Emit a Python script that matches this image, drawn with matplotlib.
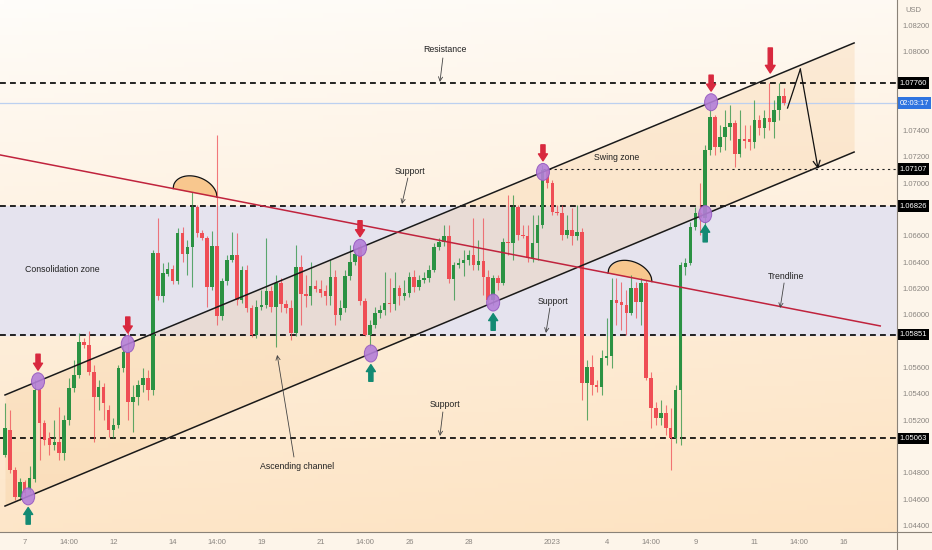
import numpy as np
import matplotlib.pyplot as plt
import matplotlib.transforms as mtransforms
from matplotlib.patches import Ellipse
from matplotlib.lines import Line2D

plt.rcParams['font.family'] = ['Liberation Sans', 'DejaVu Sans']

# EURUSD 4h candles (index 0 = Dec 6, 08:00)
opens = [1.04937, 1.05126, 1.04823, 1.04618, 1.04732, 1.04671, 1.04754, 1.05430, 1.05180, 1.05066,
         1.05012, 1.05035, 1.04952, 1.05202, 1.05445, 1.05544, 1.05794, 1.05771, 1.05567, 1.05377,
         1.05453, 1.05278, 1.05126, 1.05164, 1.05597, 1.05718, 1.05339, 1.05377, 1.05468, 1.05521,
         1.05430, 1.06470, 1.06143, 1.06310, 1.06348, 1.06257, 1.06621, 1.06462, 1.06515, 1.06819,
         1.06621, 1.06584, 1.06212, 1.06523, 1.05992, 1.06257, 1.06417, 1.06455, 1.06113, 1.06341,
         1.06052, 1.05847, 1.06060, 1.06075, 1.06181, 1.06060, 1.06242, 1.06083, 1.06052, 1.05863,
         1.06364, 1.06159, 1.06143, 1.06219, 1.06197, 1.06181, 1.06143, 1.06288, 1.05999, 1.06052,
         1.06295, 1.06401, 1.06515, 1.06105, 1.05847, 1.05923, 1.06014, 1.06037, 1.06090, 1.06083,
         1.06204, 1.06143, 1.06166, 1.06288, 1.06212, 1.06265, 1.06280, 1.06341, 1.06515, 1.06553,
         1.06599, 1.06272, 1.06379, 1.06394, 1.06417, 1.06455, 1.06379, 1.06409, 1.06288, 1.06113,
         1.06280, 1.06242, 1.06553, 1.06546, 1.06819, 1.06606, 1.06599, 1.06432, 1.06546, 1.06682,
         1.07100, 1.07001, 1.06781, 1.06773, 1.06606, 1.06644, 1.06599, 1.06629, 1.05483, 1.05605,
         1.05468, 1.05453, 1.05673, 1.05688, 1.06113, 1.06098, 1.06075, 1.06014, 1.06204, 1.06098,
         1.06242, 1.05521, 1.05293, 1.05217, 1.05255, 1.05141, 1.05066, 1.05430, 1.06364, 1.06394,
         1.06667, 1.06773, 1.06735, 1.07252, 1.07502, 1.07274, 1.07350, 1.07426, 1.07456, 1.07221,
         1.07335, 1.07335, 1.07312, 1.07479, 1.07418, 1.07494, 1.07464, 1.07552, 1.07659]
closes = [1.05141, 1.04823, 1.04618, 1.04732, 1.04648, 1.04762, 1.05430, 1.05180, 1.05050, 1.05012,
          1.05035, 1.04952, 1.05202, 1.05445, 1.05544, 1.05794, 1.05771, 1.05567, 1.05377, 1.05453,
          1.05331, 1.05126, 1.05164, 1.05597, 1.05718, 1.05339, 1.05377, 1.05468, 1.05521, 1.05430,
          1.06470, 1.06143, 1.06318, 1.06348, 1.06257, 1.06621, 1.06462, 1.06515, 1.06819, 1.06621,
          1.06584, 1.06212, 1.06523, 1.05992, 1.06257, 1.06417, 1.06455, 1.06113, 1.06341, 1.06052,
          1.05847, 1.06060, 1.06075, 1.06181, 1.06060, 1.06242, 1.06083, 1.06052, 1.05863, 1.06364,
          1.06159, 1.06143, 1.06219, 1.06197, 1.06166, 1.06143, 1.06288, 1.05999, 1.06052, 1.06295,
          1.06401, 1.06462, 1.06105, 1.05847, 1.05923, 1.06014, 1.06037, 1.06090, 1.06083, 1.06204,
          1.06143, 1.06166, 1.06288, 1.06212, 1.06265, 1.06280, 1.06341, 1.06515, 1.06553, 1.06599,
          1.06272, 1.06379, 1.06394, 1.06417, 1.06455, 1.06379, 1.06409, 1.06288, 1.06113, 1.06280,
          1.06242, 1.06553, 1.06546, 1.06819, 1.06606, 1.06599, 1.06432, 1.06546, 1.06682, 1.07100,
          1.07001, 1.06781, 1.06773, 1.06606, 1.06644, 1.06599, 1.06629, 1.05483, 1.05605, 1.05468,
          1.05453, 1.05673, 1.05688, 1.06113, 1.06090, 1.06075, 1.06014, 1.06204, 1.06098, 1.06242,
          1.05521, 1.05293, 1.05217, 1.05255, 1.05141, 1.05066, 1.05430, 1.06379, 1.06394, 1.06667,
          1.06773, 1.06735, 1.07252, 1.07502, 1.07274, 1.07350, 1.07426, 1.07456, 1.07221, 1.07335,
          1.07320, 1.07312, 1.07479, 1.07418, 1.07494, 1.07464, 1.07552, 1.07659, 1.07606]
highs = [1.05331, 1.05278, 1.04846, 1.04762, 1.04747, 1.04853, 1.05506, 1.05445, 1.05202, 1.05111,
         1.05202, 1.05301, 1.05240, 1.05521, 1.05658, 1.05863, 1.05825, 1.05878, 1.05620, 1.05506,
         1.05483, 1.05316, 1.05217, 1.05620, 1.05771, 1.05908, 1.05468, 1.05506, 1.05597, 1.05582,
         1.06492, 1.06735, 1.06394, 1.06401, 1.06379, 1.06659, 1.06667, 1.06568, 1.06933, 1.06834,
         1.06644, 1.06599, 1.06637, 1.07365, 1.06280, 1.06455, 1.06629, 1.06621, 1.06371, 1.06379,
         1.06075, 1.06113, 1.06189, 1.06584, 1.06219, 1.06303, 1.06280, 1.06113, 1.06113, 1.06530,
         1.06455, 1.06303, 1.06401, 1.06265, 1.06265, 1.06227, 1.06417, 1.06341, 1.06113, 1.06341,
         1.06530, 1.06508, 1.06538, 1.06128, 1.05961, 1.06060, 1.06075, 1.06326, 1.06280, 1.06326,
         1.06227, 1.06265, 1.06326, 1.06341, 1.06303, 1.06326, 1.06379, 1.06546, 1.06584, 1.06682,
         1.06682, 1.06401, 1.06432, 1.06492, 1.06492, 1.06735, 1.06568, 1.06735, 1.06341, 1.06303,
         1.06303, 1.06584, 1.06910, 1.06910, 1.06834, 1.06682, 1.06682, 1.06758, 1.06758, 1.07138,
         1.07115, 1.07024, 1.06834, 1.06834, 1.06758, 1.06811, 1.06834, 1.06659, 1.05658, 1.05696,
         1.05506, 1.05734, 1.05976, 1.06280, 1.06280, 1.06250, 1.06189, 1.06303, 1.06250, 1.06280,
         1.06265, 1.05567, 1.05339, 1.05354, 1.05316, 1.05293, 1.05468, 1.06401, 1.06432, 1.06705,
         1.06819, 1.07001, 1.07290, 1.07608, 1.07517, 1.07441, 1.07555, 1.07593, 1.07479, 1.07555,
         1.07441, 1.07441, 1.07631, 1.07517, 1.07555, 1.07760, 1.07631, 1.07760, 1.07722]
lows = [1.04921, 1.04800, 1.04595, 1.04595, 1.04625, 1.04656, 1.04732, 1.04899, 1.05012, 1.04937,
        1.04975, 1.04899, 1.04899, 1.05164, 1.05415, 1.05521, 1.05749, 1.05544, 1.05035, 1.05278,
        1.05202, 1.05073, 1.05066, 1.05141, 1.05567, 1.05202, 1.05111, 1.05316, 1.05415, 1.05354,
        1.05392, 1.06113, 1.06098, 1.06295, 1.06234, 1.06234, 1.06401, 1.06303, 1.06212, 1.06591,
        1.06568, 1.06060, 1.06189, 1.05923, 1.05961, 1.06227, 1.06401, 1.06075, 1.06090, 1.06022,
        1.05832, 1.05825, 1.06037, 1.06052, 1.06022, 1.05756, 1.06022, 1.06014, 1.05809, 1.05840,
        1.05923, 1.06060, 1.06075, 1.06174, 1.06136, 1.06075, 1.06075, 1.05923, 1.05961, 1.06022,
        1.06265, 1.06379, 1.06075, 1.05840, 1.05756, 1.05900, 1.05976, 1.05999, 1.06022, 1.06037,
        1.06075, 1.06113, 1.06136, 1.06174, 1.06189, 1.06242, 1.06250, 1.06326, 1.06492, 1.06523,
        1.06242, 1.06113, 1.06356, 1.06295, 1.06379, 1.06341, 1.06341, 1.06151, 1.06060, 1.06075,
        1.06189, 1.06227, 1.06455, 1.06417, 1.06568, 1.06584, 1.06401, 1.06401, 1.06417, 1.06659,
        1.06963, 1.06758, 1.06758, 1.06568, 1.06584, 1.06530, 1.06568, 1.05354, 1.05202, 1.05392,
        1.05415, 1.05392, 1.05620, 1.05597, 1.05923, 1.05885, 1.05847, 1.05999, 1.05976, 1.05923,
        1.05506, 1.05141, 1.05164, 1.05164, 1.05088, 1.04823, 1.05028, 1.05012, 1.06303, 1.06379,
        1.06644, 1.06606, 1.06622, 1.07214, 1.07214, 1.07236, 1.07252, 1.07327, 1.07122, 1.07198,
        1.07267, 1.07252, 1.07267, 1.07365, 1.07343, 1.07403, 1.07343, 1.07479, 1.07593]

# levels and drawings (candle index, price)
key_levels = [1.07760, 1.06826, 1.05851, 1.05063]
swing_level = 1.07107
consolidation = (1.05851, 1.06826)
upper_x, upper_y = [0, 172.2], [1.05392, 1.08064]
lower_x, lower_y = [0, 172.2], [1.04549, 1.07236]
trend_x, trend_y = [-1.0, 177.5], [1.07214, 1.05916]
upper_touch = [6.7, 24.9, 72.0, 109.1, 143.2]
lower_touch = [4.7, 74.2, 99.0, 142.0]
arc_spans = [(34.1, 43.0), (122.3, 131.2)]

tick_pos = [4, 13, 22, 34, 43, 52, 64, 73, 82, 94, 111, 122, 131, 140, 152, 161, 170]
tick_lab = ['7', '14:00', '12', '14', '14:00', '19', '21', '14:00', '26', '28', '2023',
            '4', '14:00', '9', '11', '14:00', '16']
price_ticks = [1.044, 1.046, 1.048, 1.052, 1.054, 1.056, 1.060, 1.062, 1.064, 1.066,
               1.070, 1.072, 1.074, 1.080, 1.082]

GREEN = '#2b9243'
RED = '#ef4e55'
ARROW_RED = '#d8283e'
ARROW_GREEN = '#138a73'

fig = plt.figure(figsize=(9.32, 5.5), dpi=100, facecolor='#fdf5ea')
ax = fig.add_axes([0, 18 / 550, 897 / 932, 532 / 550])

# background gradient: near white on top, peach towards the bottom
u = np.linspace(0, 1, 200)
v = np.linspace(0, 1, 120)          # 0 = bottom, 1 = top
U, V = np.meshgrid(u, v)
t = np.clip(0.85 * (1 - V) ** 0.9 + 0.12 * U, 0, 1)[..., None]
c1 = np.array([255, 253, 250]) / 255
c2 = np.array([253, 226, 192]) / 255
grad = c1 * (1 - t) + c2 * t
ax.imshow(grad, extent=[0, 1, 0, 1], transform=ax.transAxes, aspect='auto',
          origin='lower', zorder=0)

ax.axhspan(consolidation[0], consolidation[1], color='#e5e3ee', zorder=1)

xs = np.linspace(upper_x[0], upper_x[1], 50)
ax.fill_between(xs, np.interp(xs, lower_x, lower_y), np.interp(xs, upper_x, upper_y),
                color='#f3c68e', alpha=0.25, lw=0, zorder=1.5)

# horizontal levels
for lv in key_levels:
    ax.axhline(lv, color='black', lw=1.2, ls=(0, (3.5, 2.5)), zorder=2)
ax.plot([upper_touch[3], 181], [swing_level, swing_level], color='#222', lw=0.8,
        ls=(0, (2, 3)), zorder=2)
ax.axhline(closes[-1], color='#bcd0f0', lw=0.9, zorder=2)

# semicircles on the trendline
for a, b in arc_spans:
    ax_ = np.linspace(a, b, 80)
    base = np.interp(ax_, trend_x, trend_y)
    m, hw = (a + b) / 2, (b - a) / 2
    top = base + 0.00125 * np.sqrt(np.clip(1 - ((ax_ - m) / hw) ** 2, 0, 1))
    ax.fill_between(ax_, base, top, color='#f8c78e', lw=0, zorder=2.5)
    ax.plot(ax_, top, color='#111', lw=0.9, zorder=2.6)

# candles
idx = np.arange(len(closes))
o = np.array(opens); c = np.array(closes)
cols = [GREEN if cc >= oo else RED for oo, cc in zip(o, c)]
ax.vlines(idx, lows, highs, colors=cols, lw=0.8, alpha=0.75, zorder=2.9)
body = np.where(np.abs(c - o) < 0.00003, 0.00003, np.abs(c - o))
ax.bar(idx, body, bottom=np.minimum(o, c), width=0.72, color=cols, zorder=3)

# channel and trendline
ax.plot(upper_x, upper_y, color='#1a1a1a', lw=1.1, zorder=4)
ax.plot(lower_x, lower_y, color='#1a1a1a', lw=1.1, zorder=4)
ax.plot(trend_x, trend_y, color='#c0233d', lw=1.1, zorder=4)

# touch points with arrows
arrow_style = 'simple,head_length=0.5,head_width=0.65,tail_width=0.3'
for xt in upper_touch:
    yt = np.interp(xt, upper_x, upper_y)
    ax.add_patch(Ellipse((xt, yt), 2.64, 0.00129, fc='#b47fd8', ec='#9457c0', lw=0.7,
                         alpha=0.9, zorder=5))
    ax.annotate('', xy=(xt, yt), xytext=(0, 19.5), textcoords='offset points',
                arrowprops=dict(arrowstyle=arrow_style, color=ARROW_RED, shrinkA=0,
                                shrinkB=8, mutation_scale=10), zorder=6)
for xt in lower_touch:
    yt = np.interp(xt, lower_x, lower_y)
    ax.add_patch(Ellipse((xt, yt), 2.64, 0.00129, fc='#b47fd8', ec='#9457c0', lw=0.7,
                         alpha=0.9, zorder=5))
    ax.annotate('', xy=(xt, yt), xytext=(0, -20), textcoords='offset points',
                arrowprops=dict(arrowstyle=arrow_style, color=ARROW_GREEN, shrinkA=0,
                                shrinkB=8, mutation_scale=10), zorder=6)
ax.annotate('', xy=(155.2, 1.07836), xytext=(155.2, 1.08026),
            arrowprops=dict(arrowstyle='simple,head_length=0.55,head_width=0.7,tail_width=0.3',
                            color=ARROW_RED, shrinkA=0, shrinkB=0, mutation_scale=10), zorder=6)

# projection
ax.plot([idx[-1] + 0.7, 161.3], [1.07570, 1.07866], color='#111', lw=0.9, zorder=6)
ax.annotate('', xy=(164.9, 1.07107), xytext=(161.3, 1.07866),
            arrowprops=dict(arrowstyle='->,head_length=0.5,head_width=0.25', color='#111',
                            lw=0.9, shrinkA=0, shrinkB=0), zorder=6)

# labels
txt = dict(fontsize=6.3, color='#222', ha='center', va='center', zorder=7)
labels = [('Resistance', 89.2, 1.08011, (88.8, 1.07950), (88.2, 1.07768)),
          ('Support', 82.2, 1.07092, (81.7, 1.07039), (80.5, 1.06842)),
          ('Support', 111.2, 1.06105, (110.5, 1.06052), (109.7, 1.05863)),
          ('Trendline', 158.4, 1.06295, (158.0, 1.06242), (157.2, 1.06052)),
          ('Support', 89.2, 1.05316, (88.8, 1.05263), (88.2, 1.05081)),
          ('Ascending channel', 59.2, 1.04846, (58.6, 1.04921), (55.2, 1.05696))]
for s, x, y, a0, a1 in labels:
    ax.text(x, y, s, **txt)
    ax.annotate('', xy=a1, xytext=a0,
                arrowprops=dict(arrowstyle='->,head_length=0.3,head_width=0.15', color='#444',
                                lw=0.6, shrinkA=0, shrinkB=0), zorder=7)
ax.text(124.1, 1.07191, 'Swing zone', **txt)
ax.text(11.6, 1.06341, 'Consolidation zone', **txt)

# axes
ax.set_xlim(-1.014, 180.9)
ax.set_ylim(1.04352, 1.0839)
ax.yaxis.tick_right()
ax.set_yticks(price_ticks)
ax.set_yticklabels(['%.5f' % y for y in price_ticks])
ax.set_xticks(tick_pos)
ax.set_xticklabels(tick_lab)
ax.tick_params(axis='both', length=0, labelsize=5.5, labelcolor='#8a8580')
ax.tick_params(axis='y', pad=4)
ax.tick_params(axis='x', pad=5)
for sp in ax.spines.values():
    sp.set_visible(False)

tr = mtransforms.blended_transform_factory(ax.transAxes, ax.transData)
for lv in key_levels + [swing_level]:
    ax.text(1.003, lv, '%.5f' % lv, transform=tr, ha='left', va='center', fontsize=5.5,
            color='white', clip_on=False, zorder=8,
            bbox=dict(boxstyle='square,pad=0.3', fc='black', ec='none'))
ax.text(1.003, closes[-1], '02:03:17', transform=tr, ha='left', va='center', fontsize=5.5,
        color='white', clip_on=False, zorder=8,
        bbox=dict(boxstyle='square,pad=0.3', fc='#2f74e0', ec='none'))

fig.text(905 / 932, 1 - 10 / 550, 'USD', fontsize=5.5, color='#8a8580', va='center')
fig.add_artist(Line2D([0, 1], [18 / 550, 18 / 550], color='#8a8278', lw=0.8))
fig.add_artist(Line2D([897 / 932, 897 / 932], [0, 1], color='#8a8278', lw=0.8))

fig.savefig('out.png', dpi=100, facecolor=fig.get_facecolor())
